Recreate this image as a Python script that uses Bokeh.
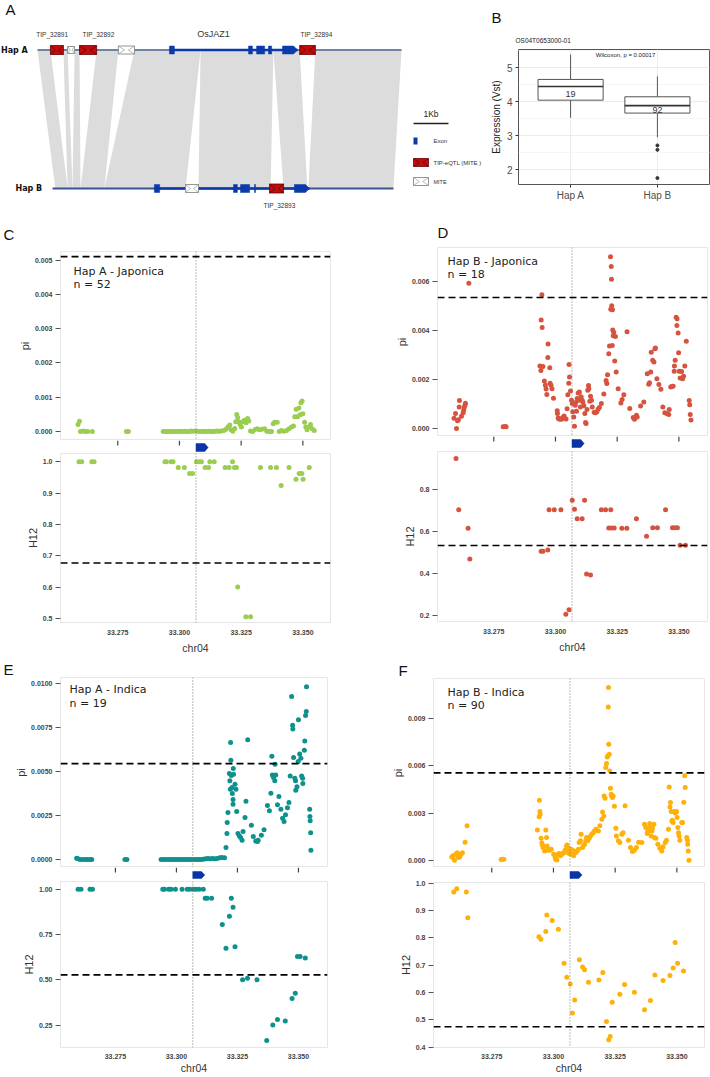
from bokeh.plotting import figure
from bokeh.models import (Range1d, FactorRange, FixedTicker, NumeralTickFormatter, Span, Label)
from bokeh.layouts import column, row
from bokeh.core.properties import value
from bokeh.embed import file_html
from bokeh.resources import INLINE

# ======================= DATA =======================
# ---- Panel B : expression boxplot ----
HAPS = ["Hap A", "Hap B"]
EXPR_WHISKER_LO = [3.53, 2.96]
EXPR_Q1 = [4.05, 3.67]
EXPR_MEDIAN = [4.45, 3.89]
EXPR_Q3 = [4.66, 4.15]
EXPR_WHISKER_HI = [5.39, 4.75]
EXPR_N = ["19", "92"]
EXPR_N_Y = [4.23, 3.77]
EXPR_OUTLIERS_B = [2.72, 2.59, 1.76]
EXPR_TICKS = [2, 3, 4, 5]
GENE_ID = "OS04T0653000-01"
WILCOX = "Wilcoxon, p = 0.00017"

# ---- Panel A : haplotype structure (kb) ----
HAP_A_SPAN = (0.0, 10.40)
HAP_B_SPAN = (0.43, 10.17)
GENE_A = (3.77, 7.43)
GENE_B = (3.34, 7.77)
A_EXON_START = [3.77, 6.03, 6.26, 6.60]
A_EXON_END = [3.91, 6.14, 6.49, 6.69]
A_LAST_EXON = (7.00, 7.43)
B_EXON_START = [3.34, 5.60, 5.80, 6.20]
B_EXON_END = [3.49, 5.71, 6.06, 6.23]
B_LAST_EXON = (7.34, 7.77)
TE_HAP = ["A", "A", "A", "A", "A", "B", "B"]
TE_START = [0.37, 0.86, 1.20, 2.31, 7.49, 4.23, 6.63]
TE_END = [0.74, 1.06, 1.69, 2.77, 7.94, 4.60, 7.03]
TE_KIND = ["TIP", "MITE", "TIP", "MITE", "TIP", "MITE", "TIP"]
TE_LABEL = ["TIP_32891", "TIP_32892", "TIP_32894", "TIP_32893"]
TE_LABEL_X = [0.42, 1.74, 7.97, 6.91]
TE_LABEL_HAP = ["A", "A", "A", "B"]
GENE_NAME = "OsJAZ1"
GENE_NAME_X = 5.03
SYN_A0 = [0.00, 0.74, 1.06, 1.69, 2.77, 4.66, 6.74, 7.94]
SYN_A1 = [0.37, 0.86, 1.20, 2.31, 4.66, 6.74, 7.49, 10.40]
SYN_B0 = [0.51, 0.86, 1.00, 1.23, 1.91, 4.60, 7.03, 7.74]
SYN_B1 = [0.86, 1.00, 1.23, 1.91, 4.23, 6.66, 7.71, 10.17]
SCALE_KB = 1.0

# ---- Panels C-F : pi / H12 along chr04 (Mb) ----
GENE_START = 33.3067
GENE_END = 33.3116
X_TICKS = [33.275, 33.300, 33.325, 33.350]

C_PI = [(33.2589, 0.00021), (33.2595, 0.00030), (33.2599, 0.0), (33.2610, 0.00002), (33.2619, 0.0),
        (33.2628, 0.0), (33.2647, 0.0), (33.2785, 0.0), (33.2793, 0.0),
        (33.2934, 0.0), (33.2942, 0.0), (33.2950, 0.0), (33.2958, 0.0), (33.2966, 0.0), (33.2974, 0.0),
        (33.2982, 0.0), (33.2991, 0.0), (33.2999, 0.00001), (33.3007, 0.0), (33.3015, 0.0), (33.3023, 0.00001),
        (33.3031, 0.0), (33.3039, 0.0), (33.3047, 0.00002), (33.3055, 0.00001), (33.3064, 0.00002),
        (33.3072, 0.00001), (33.3080, 0.0), (33.3088, 0.0), (33.3096, 0.00001), (33.3104, 0.0), (33.3112, 0.0),
        (33.3120, 0.00001), (33.3128, 0.0), (33.3136, 0.0), (33.3145, 0.00001), (33.3153, 0.00002),
        (33.3161, 0.00001), (33.3169, 0.00002),
        (33.3180, 0.00003), (33.3188, 0.00007), (33.3196, 0.00013), (33.3204, 0.00019), (33.3209, 0.00005),
        (33.3216, 0.00001), (33.3224, 0.00009), (33.3228, 0.00029), (33.3232, 0.00050), (33.3236, 0.00041),
        (33.3240, 0.00029), (33.3246, 0.00021), (33.3251, 0.00013), (33.3257, 0.00029), (33.3263, 0.00033),
        (33.3270, 0.00026), (33.3276, 0.00038), (33.3281, 0.00031), (33.3288, 0.00002), (33.3297, 0.0),
        (33.3307, 0.00006), (33.3315, 0.00008), (33.3324, 0.00005), (33.3334, 0.00007), (33.3345, 0.00008),
        (33.3354, 0.00001), (33.3363, 0.0), (33.3373, 0.0), (33.3380, 0.00023), (33.3386, 0.00027),
        (33.3396, 0.00027), (33.3404, 0.0), (33.3413, 0.00003), (33.3423, 0.00001), (33.3434, 0.00003),
        (33.3444, 0.00008), (33.3454, 0.00013), (33.3462, 0.00016), (33.3467, 0.00043), (33.3473, 0.00065),
        (33.3478, 0.00043), (33.3484, 0.00069), (33.3489, 0.00049), (33.3492, 0.00084), (33.3497, 0.00089),
        (33.3500, 0.00052), (33.3507, 0.00027), (33.3512, 0.00013), (33.3517, 0.00005), (33.3526, 0.00014),
        (33.3531, 0.00021), (33.3538, 0.00008), (33.3546, 0.00003)]
C_H12 = [(33.2593, 1.0), (33.2604, 1.0), (33.2645, 1.0), (33.2654, 1.0), (33.2941, 1.0), (33.2947, 1.0),
         (33.2966, 1.0), (33.2974, 1.0), (33.2995, 0.981), (33.3020, 0.981), (33.3041, 0.962), (33.3053, 0.962),
         (33.3069, 1.0), (33.3080, 1.0), (33.3089, 1.0), (33.3104, 0.981), (33.3118, 0.981), (33.3123, 1.0),
         (33.3141, 1.0), (33.3185, 0.981), (33.3201, 0.981), (33.3215, 1.0), (33.3223, 0.981), (33.3231, 0.981),
         (33.3236, 0.600), (33.3269, 0.505), (33.3288, 0.505), (33.3328, 0.981), (33.3369, 0.981),
         (33.3393, 0.981), (33.3412, 0.924), (33.3444, 0.981), (33.3472, 0.944), (33.3485, 0.962),
         (33.3496, 0.962), (33.3501, 0.944), (33.3526, 0.981)]

D_PI = [(33.2589, 0.00042), (33.2595, 0.00061), (33.2599, 0.0), (33.2603, 0.00031), (33.2607, 0.00035),
        (33.2610, 0.00088), (33.2611, 0.00114), (33.2619, 0.00050), (33.2626, 0.00064), (33.2628, 0.00074),
        (33.2631, 0.00087), (33.2634, 0.00097), (33.2635, 0.00103), (33.2649, 0.00593),
        (33.2788, 0.00007), (33.2795, 0.00008), (33.2800, 0.00007),
        (33.2937, 0.00255), (33.2941, 0.00237), (33.2942, 0.00443), (33.2945, 0.00546), (33.2946, 0.00412),
        (33.2949, 0.00253), (33.2955, 0.00194), (33.2959, 0.00176), (33.2962, 0.00161), (33.2965, 0.00139),
        (33.2969, 0.00290), (33.2970, 0.00345), (33.2977, 0.00248), (33.2978, 0.00185), (33.2982, 0.00176),
        (33.2986, 0.00162), (33.2992, 0.00123), (33.3007, 0.00072), (33.3008, 0.00061), (33.3011, 0.00043),
        (33.3014, 0.00038), (33.3019, 0.00038), (33.3024, 0.00037), (33.3030, 0.00045), (33.3035, 0.00051),
        (33.3038, 0.00041), (33.3043, 0.00038), (33.3047, 0.00080), (33.3050, 0.00138), (33.3054, 0.00185),
        (33.3057, 0.00210), (33.3055, 0.00261), (33.3061, 0.00153), (33.3065, 0.00115), (33.3068, 0.00102),
        (33.3070, 0.00068), (33.3074, 0.00047), (33.3077, 0.00009), (33.3080, 0.00095), (33.3082, 0.00106),
        (33.3085, 0.00070), (33.3088, 0.00122), (33.3092, 0.00145), (33.3095, 0.00115), (33.3097, 0.00149),
        (33.3101, 0.00088), (33.3104, 0.00129), (33.3108, 0.00115), (33.3111, 0.00108), (33.3115, 0.00093),
        (33.3119, 0.00061), (33.3122, 0.00024), (33.3124, 0.00020), (33.3128, 0.00077), (33.3131, 0.00156),
        (33.3134, 0.00175), (33.3135, 0.00162), (33.3139, 0.00111), (33.3142, 0.00131), (33.3146, 0.00115),
        (33.3149, 0.00088), (33.3157, 0.00066), (33.3162, 0.00064), (33.3168, 0.00068), (33.3173, 0.00079),
        (33.3178, 0.00085), (33.3186, 0.00102), (33.3196, 0.00141), (33.3205, 0.00196), (33.3208, 0.00183),
        (33.3211, 0.00219), (33.3216, 0.00305), (33.3219, 0.00337), (33.3223, 0.00701), (33.3224, 0.00487),
        (33.3226, 0.00661), (33.3227, 0.00609), (33.3228, 0.00501), (33.3230, 0.00339), (33.3231, 0.00485),
        (33.3232, 0.00402), (33.3234, 0.00379), (33.3236, 0.00393), (33.3240, 0.00275), (33.3243, 0.00375),
        (33.3246, 0.00230), (33.3254, 0.00162), (33.3265, 0.00104), (33.3270, 0.00118), (33.3277, 0.00138),
        (33.3290, 0.00395), (33.3301, 0.00081), (33.3315, 0.00045), (33.3320, 0.00037), (33.3328, 0.00054),
        (33.3331, 0.00047), (33.3345, 0.00092), (33.3358, 0.00108), (33.3372, 0.00223), (33.3378, 0.00180),
        (33.3381, 0.00187), (33.3386, 0.00230), (33.3388, 0.00311), (33.3394, 0.00278), (33.3399, 0.00271),
        (33.3403, 0.00325), (33.3405, 0.00329), (33.3411, 0.00203), (33.3419, 0.00179), (33.3427, 0.00160),
        (33.3435, 0.00088), (33.3443, 0.00064), (33.3451, 0.00061), (33.3459, 0.00057), (33.3461, 0.00077),
        (33.3467, 0.00169), (33.3473, 0.00172), (33.3477, 0.00172), (33.3481, 0.00234), (33.3482, 0.00255),
        (33.3485, 0.00278), (33.3489, 0.00454), (33.3493, 0.00447), (33.3492, 0.00420), (33.3497, 0.00390),
        (33.3499, 0.00309), (33.3501, 0.00234), (33.3505, 0.00206), (33.3511, 0.00232), (33.3515, 0.00203),
        (33.3519, 0.00213), (33.3524, 0.00255), (33.3530, 0.00356), (33.3542, 0.00114), (33.3544, 0.00097),
        (33.3546, 0.00057), (33.3549, 0.00034)]
D_H12 = [(33.2597, 0.948), (33.2608, 0.703), (33.2646, 0.615), (33.2653, 0.469), (33.2942, 0.506),
         (33.2949, 0.506), (33.2969, 0.512), (33.2974, 0.703), (33.2995, 0.703), (33.3022, 0.703),
         (33.3042, 0.206), (33.3055, 0.227), (33.3068, 0.749), (33.3077, 0.706), (33.3088, 0.660),
         (33.3108, 0.660), (33.3118, 0.749), (33.3126, 0.397), (33.3142, 0.393), (33.3186, 0.704),
         (33.3203, 0.704), (33.3224, 0.704), (33.3216, 0.617), (33.3227, 0.617), (33.3238, 0.617),
         (33.3269, 0.615), (33.3289, 0.615), (33.3328, 0.660), (33.3369, 0.577), (33.3394, 0.618),
         (33.3413, 0.618), (33.3446, 0.704), (33.3474, 0.618), (33.3484, 0.618), (33.3494, 0.618),
         (33.3505, 0.534), (33.3527, 0.534)]

E_PI = [(33.2591, 0.00008), (33.2597, 0.00004), (33.2605, 0.0), (33.2616, 0.0), (33.2627, 0.0), (33.2635, 0.0),
        (33.2646, 0.0), (33.2653, 0.0), (33.2789, 0.0), (33.2797, 0.0),
        (33.2937, 0.0), (33.2947, 0.0), (33.2956, 0.0), (33.2966, 0.0), (33.2975, 0.0), (33.2985, 0.0),
        (33.2995, 0.0), (33.3004, 0.0), (33.3014, 0.0), (33.3023, 0.0), (33.3033, 0.0), (33.3043, 0.0),
        (33.3052, 0.0), (33.3062, 0.0), (33.3071, 0.0), (33.3081, 0.0), (33.3090, 0.0), (33.3100, 0.0),
        (33.3110, 0.00002), (33.3119, 0.00004), (33.3129, 0.00006), (33.3138, 0.00004), (33.3148, 0.00006),
        (33.3158, 0.00004), (33.3167, 0.00006), (33.3177, 0.00010), (33.3186, 0.00012),
        (33.3197, 0.00011), (33.3203, 0.00068), (33.3207, 0.00148), (33.3208, 0.00210), (33.3211, 0.00267),
        (33.3217, 0.00489), (33.3219, 0.00447), (33.3221, 0.00400), (33.3222, 0.00665), (33.3223, 0.00564),
        (33.3225, 0.00477), (33.3228, 0.00409), (33.3229, 0.00375), (33.3232, 0.00341), (33.3232, 0.00314),
        (33.3233, 0.00517), (33.3234, 0.00485), (33.3240, 0.00428), (33.3244, 0.00400), (33.3247, 0.00273),
        (33.3252, 0.00148), (33.3258, 0.00134), (33.3263, 0.00125), (33.3269, 0.00110), (33.3273, 0.00159),
        (33.3281, 0.00239), (33.3285, 0.00331), (33.3292, 0.00680), (33.3307, 0.00195), (33.3315, 0.00131),
        (33.3325, 0.00106), (33.3332, 0.00102), (33.3335, 0.00110), (33.3348, 0.00138), (33.3359, 0.00170),
        (33.3373, 0.00307), (33.3381, 0.00277), (33.3387, 0.00377), (33.3391, 0.00587), (33.3393, 0.00481),
        (33.3398, 0.00466), (33.3403, 0.00447), (33.3404, 0.00542), (33.3407, 0.00481), (33.3414, 0.00311),
        (33.3420, 0.00358), (33.3428, 0.00286), (33.3435, 0.00235), (33.3441, 0.00216), (33.3447, 0.00254),
        (33.3455, 0.00295), (33.3461, 0.00324), (33.3466, 0.00475), (33.3472, 0.00926), (33.3476, 0.00763),
        (33.3477, 0.00741), (33.3480, 0.00580), (33.3485, 0.00462), (33.3488, 0.00447), (33.3489, 0.00394),
        (33.3494, 0.00413), (33.3499, 0.00557), (33.3500, 0.00794), (33.3505, 0.00599), (33.3510, 0.00576),
        (33.3513, 0.00475), (33.3517, 0.00462), (33.3518, 0.00432), (33.3524, 0.00621), (33.3526, 0.00674),
        (33.3529, 0.00818), (33.3532, 0.00841), (33.3533, 0.00981), (33.3546, 0.00286), (33.3547, 0.00244),
        (33.3548, 0.00220), (33.3550, 0.00152), (33.3551, 0.00053)]
E_H12 = [(33.2597, 1.0), (33.2609, 1.0), (33.2646, 1.0), (33.2656, 1.0), (33.2944, 1.0), (33.2951, 1.0),
         (33.2968, 1.0), (33.2978, 1.0), (33.2996, 1.0), (33.3023, 1.0), (33.3044, 1.0), (33.3055, 1.0),
         (33.3069, 1.0), (33.3080, 1.0), (33.3093, 1.0), (33.3110, 1.0), (33.3118, 0.950), (33.3126, 0.950),
         (33.3144, 0.950), (33.3188, 0.806), (33.3203, 0.674), (33.3217, 0.851), (33.3225, 0.950),
         (33.3232, 0.901), (33.3240, 0.682), (33.3271, 0.500), (33.3291, 0.509), (33.3330, 0.500),
         (33.3370, 0.164), (33.3395, 0.250), (33.3414, 0.281), (33.3446, 0.272), (33.3474, 0.396),
         (33.3487, 0.426), (33.3496, 0.629), (33.3507, 0.629), (33.3528, 0.620)]

F_PI = [(33.2588, 0.00023), (33.2593, 0.00030), (33.2599, 0.00002), (33.2604, 0.00040), (33.2610, 0.00049),
        (33.2612, 0.00030), (33.2615, 0.00019), (33.2620, 0.00023), (33.2626, 0.00040), (33.2631, 0.00049),
        (33.2642, 0.00116), (33.2650, 0.00220), (33.2788, 0.00006), (33.2793, 0.00008), (33.2799, 0.00008),
        (33.2935, 0.00194), (33.2942, 0.00277), (33.2943, 0.00382), (33.2945, 0.00311), (33.2946, 0.00294),
        (33.2950, 0.00142), (33.2953, 0.00112), (33.2955, 0.00099), (33.2958, 0.00082), (33.2964, 0.00061),
        (33.2969, 0.00194), (33.2972, 0.00146), (33.2974, 0.00093), (33.2977, 0.00066), (33.2980, 0.00072),
        (33.2985, 0.00066), (33.2991, 0.00072), (33.3001, 0.00040), (33.3007, 0.00019), (33.3009, 0.00008),
        (33.3014, 0.00004), (33.3018, 0.00040), (33.3023, 0.00044), (33.3028, 0.00030), (33.3034, 0.00040),
        (33.3039, 0.00046), (33.3045, 0.00051), (33.3047, 0.00066), (33.3053, 0.00093), (33.3055, 0.00099),
        (33.3058, 0.00082), (33.3061, 0.00066), (33.3063, 0.00044), (33.3070, 0.00040), (33.3072, 0.00072),
        (33.3077, 0.00051), (33.3080, 0.00061), (33.3082, 0.00030), (33.3085, 0.00061), (33.3091, 0.00051),
        (33.3096, 0.00061), (33.3101, 0.00072), (33.3104, 0.00114), (33.3109, 0.00125), (33.3112, 0.00167),
        (33.3118, 0.00082), (33.3123, 0.00099), (33.3126, 0.00104), (33.3131, 0.00125), (33.3134, 0.00146),
        (33.3139, 0.00125), (33.3145, 0.00142), (33.3150, 0.00156), (33.3155, 0.00167), (33.3161, 0.00177),
        (33.3166, 0.00188), (33.3172, 0.00199), (33.3182, 0.00188), (33.3188, 0.00220), (33.3196, 0.00262),
        (33.3199, 0.00308), (33.3204, 0.00283), (33.3205, 0.00410), (33.3209, 0.00395), (33.3212, 0.00590),
        (33.3215, 0.00615), (33.3218, 0.00657), (33.3220, 0.00663), (33.3222, 0.00974), (33.3223, 0.01097),
        (33.3224, 0.00737), (33.3226, 0.00674), (33.3228, 0.00568), (33.3231, 0.00459), (33.3234, 0.00420),
        (33.3236, 0.00410), (33.3239, 0.00399), (33.3242, 0.00410), (33.3247, 0.00344), (33.3253, 0.00205),
        (33.3255, 0.00156), (33.3263, 0.00125), (33.3269, 0.00114), (33.3277, 0.00167), (33.3282, 0.00177),
        (33.3290, 0.00347), (33.3304, 0.00129), (33.3312, 0.00082), (33.3320, 0.00057), (33.3328, 0.00066),
        (33.3336, 0.00082), (33.3345, 0.00116), (33.3358, 0.00114), (33.3369, 0.00230), (33.3374, 0.00209),
        (33.3380, 0.00171), (33.3382, 0.00184), (33.3388, 0.00209), (33.3390, 0.00235), (33.3396, 0.00156),
        (33.3399, 0.00188), (33.3401, 0.00205), (33.3407, 0.00230), (33.3409, 0.00146), (33.3415, 0.00142),
        (33.3423, 0.00104), (33.3431, 0.00078), (33.3439, 0.00061), (33.3444, 0.00087), (33.3453, 0.00114),
        (33.3458, 0.00129), (33.3466, 0.00199), (33.3469, 0.00467), (33.3472, 0.00340), (33.3474, 0.00368),
        (33.3477, 0.00311), (33.3480, 0.00251), (33.3482, 0.00256), (33.3485, 0.00241), (33.3490, 0.00311),
        (33.3493, 0.00302), (33.3499, 0.00311), (33.3501, 0.00273), (33.3504, 0.00209), (33.3507, 0.00177),
        (33.3509, 0.00156), (33.3512, 0.00129), (33.3520, 0.00241), (33.3523, 0.00241), (33.3528, 0.00370),
        (33.3532, 0.00537), (33.3534, 0.00463), (33.3540, 0.00146), (33.3543, 0.00129), (33.3544, 0.00104),
        (33.3546, 0.00061), (33.3549, 0.00002)]
F_H12 = [(33.2596, 0.968), (33.2608, 0.980), (33.2647, 0.968), (33.2653, 0.874), (33.2941, 0.804),
         (33.2949, 0.795), (33.2969, 0.824), (33.2973, 0.884), (33.2995, 0.864), (33.3020, 0.832),
         (33.3043, 0.707), (33.3054, 0.656), (33.3068, 0.631), (33.3077, 0.525), (33.3086, 0.573),
         (33.3105, 0.720), (33.3118, 0.694), (33.3126, 0.684), (33.3142, 0.638), (33.3184, 0.646),
         (33.3200, 0.674), (33.3215, 0.494), (33.3224, 0.427), (33.3230, 0.439), (33.3238, 0.565),
         (33.3269, 0.594), (33.3288, 0.630), (33.3328, 0.601), (33.3369, 0.537), (33.3393, 0.571),
         (33.3411, 0.664), (33.3444, 0.644), (33.3472, 0.663), (33.3485, 0.690), (33.3493, 0.783),
         (33.3503, 0.707), (33.3527, 0.679)]

PANELS = [
    dict(key="C", title="Hap A - Japonica", n="n = 52", color="#9ACD50", pi=C_PI, h12=C_H12,
         xr=(33.2518, 33.3612), pi_range=(-0.00026, 0.00525), pi_ticks=[0, 0.001, 0.002, 0.003, 0.004, 0.005],
         pi_fmt="0.000", h_range=(0.487, 1.026), h_ticks=[0.5, 0.6, 0.7, 0.8, 0.9, 1.0], h_fmt="0.0",
         pi_thr=0.0051, h_thr=0.677),
    dict(key="D", title="Hap B - Japonica", n="n = 18", color="#D6533F", pi=D_PI, h12=D_H12,
         xr=(33.2522, 33.3616), pi_range=(-0.00033, 0.00739), pi_ticks=[0, 0.002, 0.004, 0.006],
         pi_fmt="0.000", h_range=(0.171, 0.981), h_ticks=[0.2, 0.4, 0.6, 0.8], h_fmt="0.0",
         pi_thr=0.00535, h_thr=0.533),
    dict(key="E", title="Hap A - Indica", n="n = 19", color="#0E918C", pi=E_PI, h12=E_H12,
         xr=(33.2525, 33.3619), pi_range=(-0.00045, 0.01034), pi_ticks=[0, 0.0025, 0.005, 0.0075, 0.01],
         pi_fmt="0.0000", h_range=(0.126, 1.043), h_ticks=[0.25, 0.5, 0.75, 1.0], h_fmt="0.00",
         pi_thr=0.00545, h_thr=0.527),
    dict(key="F", title="Hap B - Indica", n="n = 90", color="#FDB10A", pi=F_PI, h12=F_H12,
         xr=(33.2514, 33.3612), pi_range=(-0.00044, 0.01154), pi_ticks=[0, 0.003, 0.006, 0.009],
         pi_fmt="0.000", h_range=(0.399, 1.003), h_ticks=[0.4, 0.5, 0.6, 0.7, 0.8, 0.9, 1.0], h_fmt="0.0",
         pi_thr=0.00556, h_thr=0.475),
]

# ======================= LAYOUT (pixel boxes) =======================
# head: top of header strip ; pi_frame: (left, top, right, bottom) ; strip bottom ;
# arrow: (top, bottom) offsets inside the strip ; h_box_top ; h_frame ; letter: (x, centre y)
LAYOUT = {
    "C": dict(col=(0, 355), head=215, pi_frame=(60, 251, 330, 440), strip_bottom=453, arrow=(3, 11),
              h_box_top=453, h_frame=(60, 453, 330, 622), h_box_bottom=657,
              letter=(3, 234), text=(13, 20, 33), xlab=(7, 4)),
    "E": dict(col=(0, 355), head=657, pi_frame=(60, 677, 327, 867), strip_bottom=880, arrow=(4, 11),
              h_box_top=880, h_frame=(60, 881, 327, 1051), h_box_bottom=1076,
              letter=(3, 668.5), text=(9, 12, 26), xlab=(6, 0)),
    "D": dict(col=(355, 710), head=215, pi_frame=(437, 247, 707, 436), strip_bottom=449, arrow=(3, 11),
              h_box_top=449, h_frame=(437, 451, 707, 621), h_box_bottom=657,
              letter=(437, 232), text=(10, 14, 27), xlab=(7, 4)),
    "F": dict(col=(355, 710), head=657, pi_frame=(433, 678, 704, 867), strip_bottom=879, arrow=(4, 11),
              h_box_top=879, h_frame=(433, 882, 704, 1052), h_box_bottom=1076,
              letter=(398, 669.5), text=(14, 14, 27), xlab=(6, 0)),
}
TICK_LEN = 5

TICK_FONT = "Liberation Sans"
TEXT_FONT = "DejaVu Sans"
LETTER_SIZE = "15px"


def make_fig(box, frame, x_range, y_range, **kw):
    l, t, r, b = box
    fl, ft, fr, fb = frame
    p = figure(width=r - l, height=b - t, x_range=x_range, y_range=y_range, title=None,
               toolbar_location=None, output_backend="svg", frame_align=False,
               min_border_left=fl - l, min_border_right=r - fr,
               min_border_top=ft - t, min_border_bottom=b - fb, **kw)
    p.background_fill_color = "white"
    p.border_fill_color = "white"
    return p, fr - fl, fb - ft


def bare_fig(box, x_range=None, y_range=None):
    p, fw, fh = make_fig(box, box, x_range or Range1d(0, 1), y_range or Range1d(0, 1),
                         x_axis_type=None, y_axis_type=None)
    p.outline_line_color = None
    return p, fw, fh


def screen_text(p, fh, dx, dy, text, size, font=TEXT_FONT, color="#222222", style="normal", align="left"):
    # dx, dy : offsets (px) of the text's left/centre from the frame's top-left corner
    p.add_layout(Label(x=dx, y=fh - dy, x_units="screen", y_units="screen", text=text, text_font=font,
                       text_font_size=size, text_color=color, text_font_style=style,
                       text_align=align, text_baseline="middle"))


# ======================= PANEL A =======================
A_BOX = (0, 0, 487, 215)
PX0, PX_PER_KB, TA_PX, TB_PX = 37.0, 35.0, 49.5, 188.0
xa = Range1d((A_BOX[0] - PX0) / PX_PER_KB, (A_BOX[2] - PX0) / PX_PER_KB)
ya = Range1d((TB_PX - A_BOX[3]) / (TB_PX - TA_PX), (TB_PX - A_BOX[1]) / (TB_PX - TA_PX))
pA, fwA, fhA = bare_fig(A_BOX, xa, ya)
tpp = (ya.end - ya.start) / fhA          # track units per pixel
kpp = (xa.end - xa.start) / fwA          # kb per pixel
BLUE = "#0B3AAA"


def ty(px):
    return (TB_PX - px) * tpp


pA.patches(xs=[[a0, a1, b1, b0] for a0, a1, b0, b1 in zip(SYN_A0, SYN_A1, SYN_B0, SYN_B1)],
           ys=[[1, 1, 0, 0] for _ in SYN_A0], fill_color="#DCDCDC", line_color=None)
pA.segment(x0=[HAP_A_SPAN[0], HAP_B_SPAN[0]], y0=[1, 0], x1=[HAP_A_SPAN[1], HAP_B_SPAN[1]], y1=[1, 0],
           line_color=["#7083A9", "#3A5392"], line_width=2)
pA.segment(x0=[GENE_A[0], GENE_B[0]], y0=[1, 0], x1=[GENE_A[1], GENE_B[1]], y1=[1, 0],
           line_color=BLUE, line_width=2.5)
for tr, st, en, last in [(1, A_EXON_START, A_EXON_END, A_LAST_EXON), (0, B_EXON_START, B_EXON_END, B_LAST_EXON)]:
    h = 4 * tpp
    pA.quad(left=st, right=en, bottom=tr - h, top=tr + h, fill_color=BLUE, line_color=BLUE, line_width=0.5)
    tip = 4 * kpp
    s, e = last
    pA.patch(x=[s, e - tip, e, e - tip, s], y=[tr - h, tr - h, tr, tr + h, tr + h],
             fill_color=BLUE, line_color=BLUE, line_width=0.5)


def te_box(s, e, tr, h, fc, lc, xc):
    pA.quad(left=[s], right=[e], bottom=[tr - h], top=[tr + h], fill_color=fc, line_color=lc, line_width=0.8)
    m, d = (s + e) / 2, 0.12 * (e - s)
    pA.multi_line(xs=[[s, m - d, s], [e, m + d, e]], ys=[[tr + h, tr, tr - h], [tr + h, tr, tr - h]],
                  line_color=xc, line_width=0.6)


TIP_STYLE = ("#C20C0C", "#6A0000", "#4A0000")
MITE_STYLE = ("white", "#7A7A7A", "#8A8A8A")
for hap, s, e, kind in zip(TE_HAP, TE_START, TE_END, TE_KIND):
    tr = 1 if hap == "A" else 0
    if kind == "TIP":
        te_box(s, e, tr, 4.5 * tpp, *TIP_STYLE)
    else:
        te_box(s, e, tr, (3.5 if e - s < 0.25 else 4.0) * tpp, *MITE_STYLE)

pA.text(x=TE_LABEL_X, y=[1 + 15.5 * tpp if hp == "A" else -17 * tpp for hp in TE_LABEL_HAP], text=TE_LABEL,
        text_font=value(TICK_FONT), text_font_size="6.5px", text_color="#333333",
        text_align="center", text_baseline="middle")
pA.text(x=[GENE_NAME_X], y=[1 + 16.5 * tpp], text=[GENE_NAME], text_font=value(TICK_FONT),
        text_font_size="9px", text_color="#333333", text_align="center", text_baseline="middle")
pA.text(x=[xa.start + 0.5 * kpp, xa.start + 15 * kpp], y=[1, 0], text=["Hap A", "Hap B"],
        text_font=value(TEXT_FONT), text_font_size="8px", text_font_style="bold", text_color="#111111",
        text_align="left", text_baseline="middle")

# legend (scale bar + feature keys)
LX0 = (413 - PX0) / PX_PER_KB
pA.segment(x0=[LX0], y0=[ty(123)], x1=[LX0 + SCALE_KB], y1=[ty(123)], line_color="#222222", line_width=1.5)
pA.text(x=[LX0 + SCALE_KB / 2], y=[ty(113)], text=["1Kb"], text_font=value(TICK_FONT),
        text_font_size="8.5px", text_color="#222222", text_align="center", text_baseline="middle")
ly_exon, ly_tip, ly_mite = ty(140.5), ty(162), ty(181)
pA.quad(left=[LX0], right=[LX0 + 4 * kpp], bottom=[ly_exon - 3.5 * tpp], top=[ly_exon + 3.5 * tpp],
        fill_color=BLUE, line_color=None)
te_box(LX0, LX0 + 15 * kpp, ly_tip, 4 * tpp, *TIP_STYLE)
te_box(LX0, LX0 + 15 * kpp, ly_mite, 4 * tpp, *MITE_STYLE)
pA.text(x=[LX0 + 20 * kpp] * 3, y=[ly_exon, ly_tip, ly_mite], text=["Exon", "TIP-eQTL (MITE )", "MITE"],
        text_font=value(TICK_FONT), text_font_size=["6px", "6px", "5.5px"], text_color="#333333",
        text_align="left", text_baseline="middle")
screen_text(pA, fhA, 5, 8.5, "A", LETTER_SIZE, font=TICK_FONT, color="#111111")

# ======================= PANEL B =======================
B_HEAD = (487, 0, 710, 49)
pBh, fwBh, fhBh = bare_fig(B_HEAD)
screen_text(pBh, fhBh, 491 - B_HEAD[0], 17, "B", LETTER_SIZE, font=TICK_FONT, color="#111111")
screen_text(pBh, fhBh, 515 - B_HEAD[0], 40, GENE_ID, "6.5px", font=TICK_FONT, color="#222222")

B_BOX = (487, 49, 710, 215)
B_FRAME = (513, 49, 709, 184)
pB, fwB, fhB = make_fig(B_BOX, B_FRAME,
                        FactorRange(factors=HAPS, range_padding=0.1, range_padding_units="absolute"),
                        Range1d(1.57, 5.54))
pB.segment(x0=HAPS, y0=EXPR_Q3, x1=HAPS, y1=EXPR_WHISKER_HI, line_color="#555555", line_width=1)
pB.segment(x0=HAPS, y0=EXPR_WHISKER_LO, x1=HAPS, y1=EXPR_Q1, line_color="#555555", line_width=1)
pB.vbar(x=HAPS, width=0.75, bottom=EXPR_Q1, top=EXPR_Q3, fill_color="white", line_color="#555555",
        line_width=1)
pB.rect(x=HAPS, y=EXPR_MEDIAN, width=0.75, height=1.6, height_units="screen", fill_color="#333333",
        line_color=None)
pB.scatter(x=["Hap B"] * len(EXPR_OUTLIERS_B), y=EXPR_OUTLIERS_B, size=3, color="#333333")
pB.text(x=HAPS, y=EXPR_N_Y, text=EXPR_N, text_font=value(TICK_FONT), text_font_size="9px",
        text_color="#333333", text_align="center", text_baseline="middle")
tkB = FixedTicker(ticks=EXPR_TICKS, minor_ticks=[1.5, 2.5, 3.5, 4.5, 5.5])
pB.yaxis.ticker = tkB
pB.ygrid.ticker = tkB
pB.xgrid.grid_line_color = "#EBEBEB"
pB.ygrid.grid_line_color = "#EBEBEB"
pB.ygrid.minor_grid_line_color = "#F5F5F5"
pB.outline_line_color = "#555555"
for ax in (pB.xaxis[0], pB.yaxis[0]):
    ax.axis_line_color = None
    ax.major_tick_line_color = "#333333"
    ax.major_tick_out = 3
    ax.major_tick_in = 0
    ax.minor_tick_line_color = None
    ax.major_label_text_font = TICK_FONT
    ax.major_label_text_font_size = "10px"
    ax.major_label_text_color = "#4D4D4D"
    ax.major_label_standoff = 2
pB.yaxis.axis_label = "Expression (Vst)"
pB.yaxis.axis_label_text_font = TICK_FONT
pB.yaxis.axis_label_text_font_size = "10px"
pB.yaxis.axis_label_text_font_style = "normal"
pB.yaxis.axis_label_text_color = "#222222"
pB.yaxis.axis_label_standoff = 2
screen_text(pB, fhB, 620 - B_FRAME[0], 54 - B_FRAME[1], WILCOX, "6px", font=TICK_FONT, align="center")


# ======================= PANELS C-F =======================
def style_axes(p):
    p.grid.visible = False
    p.outline_line_color = "#E6E6E6"
    for ax in p.axis:
        ax.axis_line_color = None
        ax.major_tick_line_color = "#555555"
        ax.minor_tick_line_color = None
        ax.major_tick_in = 0
        ax.major_label_text_font = TICK_FONT
        ax.major_label_text_font_size = "7px"
        ax.major_label_text_font_style = "bold"
        ax.major_label_text_color = "#444444"
        ax.axis_label_text_font = TICK_FONT
        ax.axis_label_text_font_size = "11px"
        ax.axis_label_text_font_style = "normal"
        ax.axis_label_text_color = "#333333"
    p.yaxis.major_tick_out = 5
    p.yaxis.major_label_standoff = 3
    p.yaxis.axis_label_standoff = 1


def build_panel(spec):
    lay = LAYOUT[spec["key"]]
    xr = Range1d(*spec["xr"])
    fr = lay["pi_frame"]
    l, r = lay["col"]
    # --- header with the panel letter ---
    hbox = (l, lay["head"], r, fr[1])
    phd, _, hh = bare_fig(hbox)
    screen_text(phd, hh, lay["letter"][0] - l, lay["letter"][1] - hbox[1], spec["key"], LETTER_SIZE,
                font=TICK_FONT, color="#111111")
    # --- pi ---
    ppi, fw, fh = make_fig((l, fr[1], r, fr[3]), fr, xr, Range1d(*spec["pi_range"]), x_axis_type=None)
    style_axes(ppi)
    ppi.yaxis.ticker = FixedTicker(ticks=spec["pi_ticks"])
    ppi.yaxis.formatter = NumeralTickFormatter(format=spec["pi_fmt"])
    ppi.yaxis.axis_label = "pi"
    ppi.add_layout(Span(location=GENE_START, dimension="height", line_color="#777777",
                        line_dash="1 2", line_width=1))
    ppi.add_layout(Span(location=spec["pi_thr"], dimension="width", line_color="black",
                        line_dash="7 4", line_width=1.6))
    ppi.scatter([v[0] for v in spec["pi"]], [v[1] for v in spec["pi"]], size=5, color=spec["color"],
                line_color=None)
    screen_text(ppi, fh, lay["text"][0], lay["text"][1], spec["title"], "11px")
    screen_text(ppi, fh, lay["text"][0], lay["text"][2], spec["n"], "11px")
    # --- strip: x tick marks under the pi panel + gene arrow ---
    s_top, s_bot = fr[3], lay["strip_bottom"]
    H = s_bot - s_top
    pst, sw, sh = make_fig((l, s_top, r, s_bot), (fr[0], s_top, fr[2], s_bot), xr, Range1d(0, H),
                           x_axis_type=None, y_axis_type=None)
    pst.outline_line_color = None
    pst.segment(x0=X_TICKS, y0=[H] * len(X_TICKS), x1=X_TICKS, y1=[H - TICK_LEN] * len(X_TICKS),
                line_color="#444444", line_width=1.2)
    tip = 3.3 * (xr.end - xr.start) / sw
    at, ab = H - lay["arrow"][0], H - lay["arrow"][1]
    pst.patch(x=[GENE_START, GENE_END - tip, GENE_END, GENE_END - tip, GENE_START],
              y=[ab, ab, (at + ab) / 2, at, at], fill_color="#0B35A6", line_color="#0B35A6", line_width=0.5)
    # --- H12 ---
    hf = lay["h_frame"]
    ph, fw2, fh2 = make_fig((l, lay["h_box_top"], r, lay["h_box_bottom"]), hf, xr, Range1d(*spec["h_range"]))
    style_axes(ph)
    ph.yaxis.ticker = FixedTicker(ticks=spec["h_ticks"])
    ph.yaxis.formatter = NumeralTickFormatter(format=spec["h_fmt"])
    ph.yaxis.axis_label = "H12"
    ph.xaxis.ticker = FixedTicker(ticks=X_TICKS)
    ph.xaxis.formatter = NumeralTickFormatter(format="0.000")
    ph.xaxis.major_tick_out = 0
    ph.xaxis.major_label_standoff = lay["xlab"][0]
    ph.xaxis.axis_label = "chr04"
    ph.xaxis.axis_label_text_font_size = "10.5px"
    ph.xaxis.axis_label_standoff = lay["xlab"][1]
    ph.add_layout(Span(location=GENE_START, dimension="height", line_color="#777777",
                       line_dash="1 2", line_width=1))
    ph.add_layout(Span(location=spec["h_thr"], dimension="width", line_color="black",
                       line_dash="7 4", line_width=1.6))
    ph.scatter([v[0] for v in spec["h12"]], [v[1] for v in spec["h12"]], size=5,
               color=spec["color"], line_color=None)
    return [phd, ppi, pst, ph]


figs = {sp["key"]: build_panel(sp) for sp in PANELS}
left_col = column(*(figs["C"] + figs["E"]))
right_col = column(*(figs["D"] + figs["F"]))
layout = column(row(pA, column(pBh, pB)), row(left_col, right_col))

open("out.html", "w").write(file_html(layout, INLINE))
